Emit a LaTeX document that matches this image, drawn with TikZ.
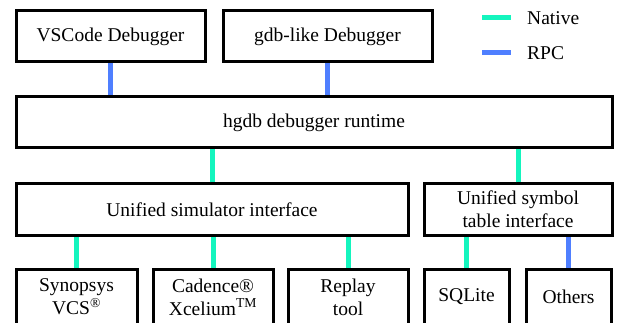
\documentclass[tikz,border=0pt]{standalone}
\usepackage{fontspec}
\setmainfont{Liberation Serif}
\definecolor{nativegreen}{HTML}{14F5BE}
\definecolor{rpcblue}{HTML}{4F7FFF}

\begin{document}
\begin{tikzpicture}[x=1pt,y=-1pt,
    native/.style={draw=nativegreen,line width=5pt},
    rpc/.style={draw=rpcblue,line width=5pt},
    every node/.style={font=\fontsize{19.5}{23}\selectfont}]
    \tikzstyle{block}=[draw=black,line width=3pt,fill=white,align=center,inner sep=0pt]

    \useasboundingbox (0,0) rectangle (618,323);

    % front ends
    \node[block,minimum width=189pt,minimum height=51pt] (vscode) at (110.5,36.5) {VSCode Debugger};
    \node[block,minimum width=209pt,minimum height=51pt] (gdblike) at (327.5,36.5) {gdb-like Debugger};

    % runtime
    \node[block,minimum width=596pt,minimum height=51pt] (hgdb) at (314,122.5) {hgdb debugger runtime};

    % interfaces
    \node[block,minimum width=392pt,minimum height=51pt] (siminf) at (212,209.5) {Unified simulator interface};
    \node[block,minimum width=188pt,minimum height=51pt] (syminf) at (518,209.5) {Unified symbol\\table interface};

    % back ends
    \node[block,minimum width=121pt,minimum height=56pt] (vcs) at (76.5,297) {Synopsys\\VCS\textsuperscript{\textregistered}};
    \node[block,minimum width=120pt,minimum height=56pt] (xcelium) at (213,297) {Cadence\textregistered\\Xcelium\textsuperscript{TM}};
    \node[block,minimum width=120pt,minimum height=56pt] (replay) at (348,297) {Replay\\tool};
    \node[block,minimum width=85pt,minimum height=56pt] (sqlite) at (466.5,297) {SQLite};
    \node[block,minimum width=85pt,minimum height=56pt] (others) at (568.5,297) {Others};

    % connections
    \draw[rpc] (vscode.south) -- (vscode.south |- hgdb.north);
    \draw[rpc] (gdblike.south) -- (gdblike.south |- hgdb.north);
    \draw[native] (siminf.north) -- (siminf.north |- hgdb.south);
    \draw[native] (syminf.north) -- (syminf.north |- hgdb.south);
    \draw[native] (vcs.north) -- (vcs.north |- siminf.south);
    \draw[native] (xcelium.north) -- (xcelium.north |- siminf.south);
    \draw[native] (replay.north) -- (replay.north |- siminf.south);
    \draw[native] (sqlite.north) -- (sqlite.north |- syminf.south);
    \draw[rpc] (others.north) -- (others.north |- syminf.south);

    % legend
    \node[anchor=west,inner sep=0pt] (nativelbl) at (527,18) {Native};
    \node[anchor=west,inner sep=0pt] (rpclbl) at (527,53) {RPC};
    \coordinate (nativekey) at (482,18);
    \coordinate (rpckey) at (482,53);
    \draw[native] (nativekey) -- ++(29,0);
    \draw[rpc] (rpckey) -- ++(29,0);
  \end{tikzpicture}
\end{document}
